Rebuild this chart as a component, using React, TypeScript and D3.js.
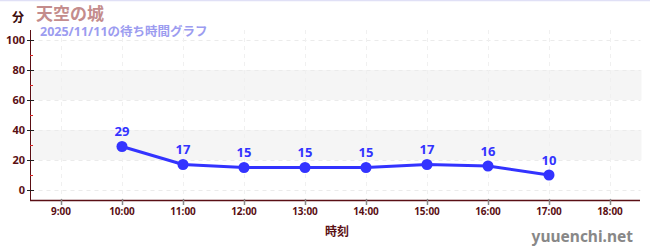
import React from "react";
import * as d3 from "d3";

const title = "天空の城";
const subtitle = "2025/11/11の待ち時間グラフ";
const hours = [10, 11, 12, 13, 14, 15, 16, 17];
const waits = [29, 17, 15, 15, 15, 17, 16, 10];
const xTicks = [9, 10, 11, 12, 13, 14, 15, 16, 17, 18];
const yTicks = [0, 20, 40, 60, 80, 100];
const yMinor = [10, 30, 50, 70, 90];
const bands: [number, number][] = [[20, 40], [60, 80]];

const W = 650, H = 250;
const FONT = "'Noto Sans', 'Noto Sans CJK JP', sans-serif";
const AXIS = "#5a0f14";

export default function App() {
  const x = d3.scaleLinear().domain([8.5, 18.5]).range([30.5, 640.5]);
  const y = d3.scaleLinear().domain([-6.67, 106.67]).range([200, 30]);
  const line = d3.line<number>().x((_, i) => x(hours[i])).y((d) => y(d));
  return (
    <svg width={W} height={H} style={{ position: "absolute", left: 0, top: 0 }} fontFamily={FONT}>
      <rect x={0} y={0} width={W} height={H} fill="#fff" />
      <line x1={0} x2={W} y1={0.5} y2={0.5} stroke="#e0e0f6" strokeWidth={1.5} />
      {bands.map(([a, b], i) => (
        <rect key={i} x={x(8.5) + 1} width={x(18.5) - x(8.5)} y={y(b)} height={y(a) - y(b)} fill="#f5f5f5" />
      ))}
      {yTicks.map((t) => (
        <line key={"gy" + t} x1={x(8.5)} x2={x(18.5)} y1={Math.round(y(t)) + 0.5} y2={Math.round(y(t)) + 0.5} stroke="#ebebeb" strokeDasharray="4,4" />
      ))}
      {xTicks.map((t) => (
        <line key={"gx" + t} x1={Math.round(x(t)) + 0.5} x2={Math.round(x(t)) + 0.5} y1={30} y2={200} stroke="#f0f0f0" strokeDasharray="4,4" />
      ))}
      {/* axes */}
      <line x1={30.5} x2={30.5} y1={30} y2={200} stroke={AXIS} strokeWidth={1} />
      <line x1={30} x2={640} y1={200.5} y2={200.5} stroke={AXIS} strokeWidth={1.5} />
      {yTicks.map((t) => (
        <g key={"yt" + t}>
          <line x1={27} x2={34} y1={Math.round(y(t)) + 0.5} y2={Math.round(y(t)) + 0.5} stroke="#222" />
          <text x={25} y={y(t)} dy="0.35em" textAnchor="end" fontSize={11} fontWeight="bold" fill={AXIS}>{t}</text>
        </g>
      ))}
      {yMinor.map((t) => (
        <line key={"ym" + t} x1={30} x2={33} y1={Math.round(y(t)) + 0.5} y2={Math.round(y(t)) + 0.5} stroke="#dd2222" />
      ))}
      {xTicks.map((t) => (
        <g key={"xt" + t}>
          <line x1={Math.round(x(t)) + 0.5} x2={Math.round(x(t)) + 0.5} y1={199} y2={205} stroke="#888" strokeWidth={1.5} />
          <text x={x(t)} y={215} textAnchor="middle" fontSize={10} fontWeight="bold" fill={AXIS}>{t}:00</text>
        </g>
      ))}
      {/* series */}
      <path d={line(waits) || ""} fill="none" stroke="#3333ff" strokeWidth={3} strokeLinejoin="round" />
      {waits.map((v, i) => (
        <g key={"p" + i}>
          <circle cx={x(hours[i])} cy={y(v)} r={5.5} fill="#3333ff" />
          <text x={x(hours[i])} y={y(v) - 10} textAnchor="middle" fontSize={13} fontWeight="bold" fill="#3333ff">{v}</text>
        </g>
      ))}
      {/* texts */}
      <text x={12} y={22} fontSize={12} fontWeight="bold" fill="#3a0a0a">分</text>
      <text x={36} y={20} fontSize={17} fontWeight="bold" fill="#c48c8c">{title}</text>
      <text x={40} y={36} fontSize={12.5} fontWeight="bold" fill="#9c9cf0">{subtitle}</text>
      <text x={337} y={236} textAnchor="middle" fontSize={12} fontWeight="bold" fill={AXIS}>時刻</text>
      <text x={633} y={242} textAnchor="end" fontSize={15.5} fontWeight="bold" fill="#888">yuuenchi.net</text>
    </svg>
  );
}
